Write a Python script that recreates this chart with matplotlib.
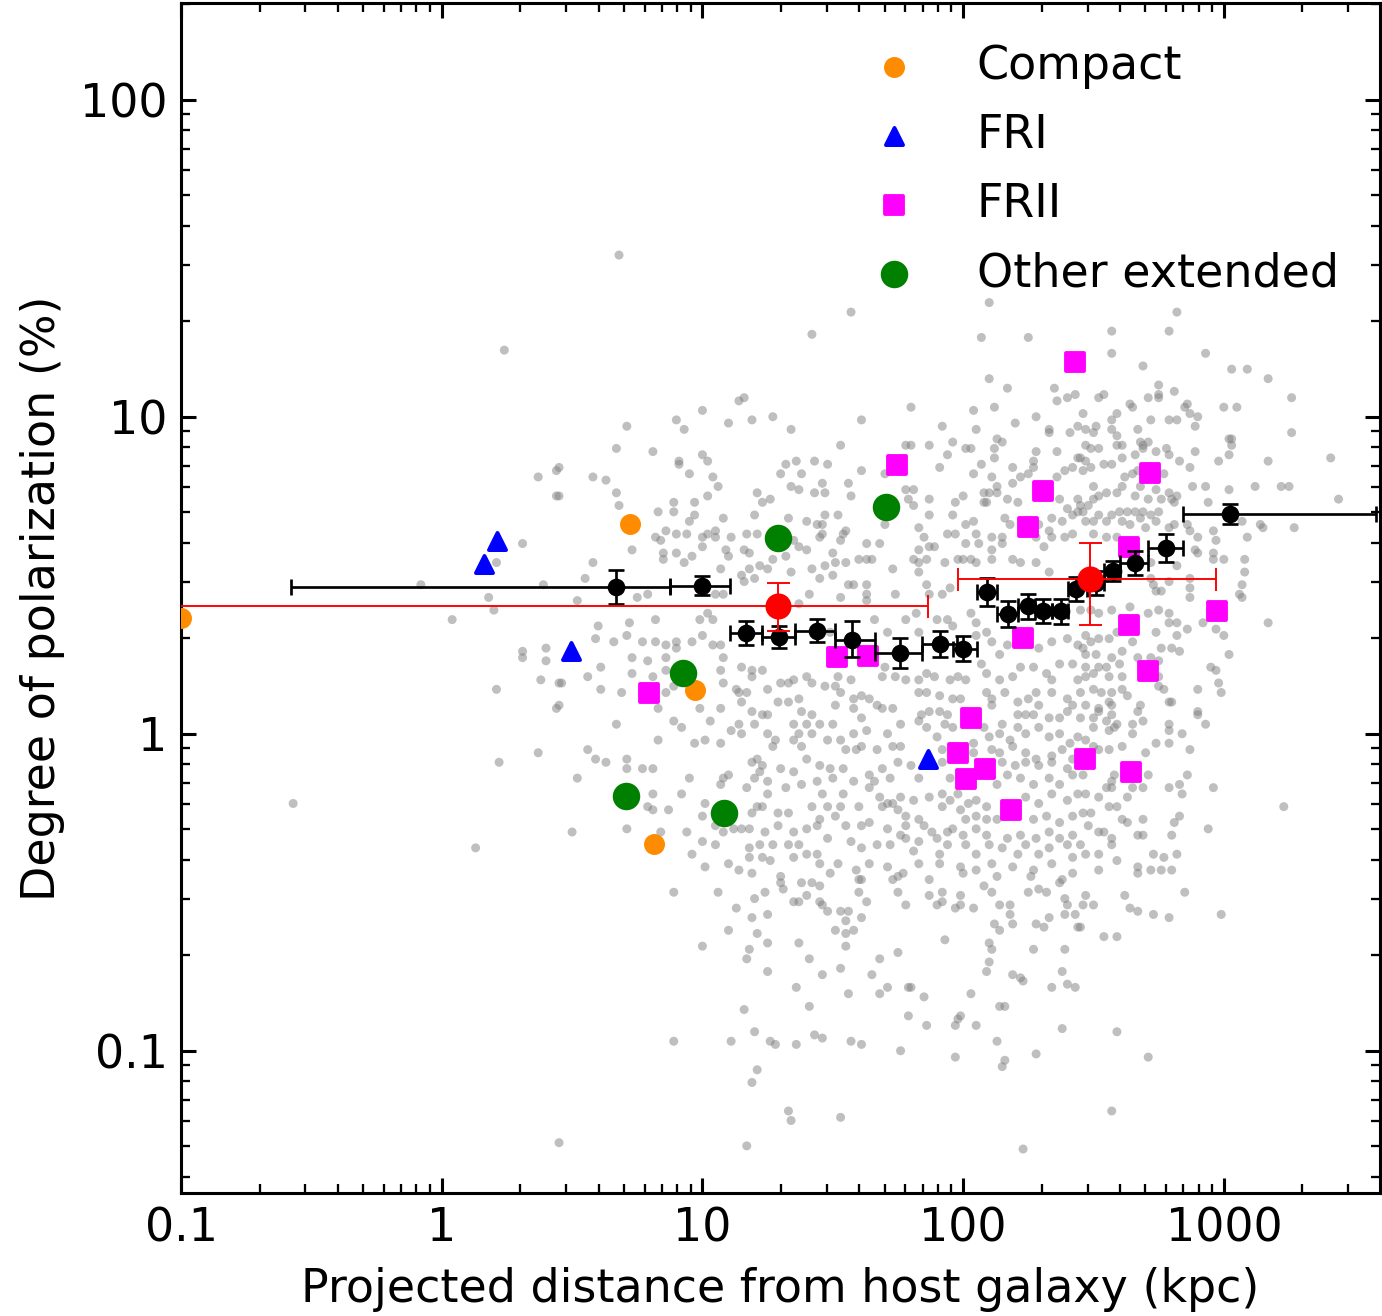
import matplotlib.pyplot as plt
import numpy as np
from matplotlib.ticker import FuncFormatter, LogLocator, NullFormatter

# Background radio sources: (log10 projected distance [kpc], log10 polarization [%])
field = np.array([
    (1.42, 1.26), (1.14, 1.05), (1.16, 1.06), (1.00, 1.02), (0.90, 0.99), (0.93, 0.96),
    (1.10, 0.98), (1.19, 0.99), (1.27, 1.00), (1.34, 0.96), (0.71, 0.97), (0.67, 0.90),
    (0.81, 0.89), (1.00, 0.88), (1.02, 0.86), (0.91, 0.85), (0.91, 0.86), (0.95, 0.82),
    (1.04, 0.81), (1.06, 0.78), (1.02, 0.75), (0.58, 0.81), (0.63, 0.80), (0.67, 0.76),
    (0.68, 0.72), (0.45, 0.75), (0.45, 0.84), (0.89, 0.73), (0.89, 0.70), (0.83, 0.70),
    (0.97, 0.73), (0.97, 0.69), (0.95, 0.67), (1.08, 0.68), (1.20, 0.69), (1.21, 0.76),
    (1.23, 0.73), (1.26, 0.74), (1.32, 0.85), (1.36, 0.86), (1.43, 0.86), (1.30, 0.82),
    (1.38, 0.82), (1.34, 0.78), (1.37, 0.77), (1.43, 0.76), (1.33, 0.68), (1.40, 0.67),
    (1.44, 0.66), (0.86, 0.64), (0.82, 0.62), (0.84, 0.61), (0.90, 0.63), (0.94, 0.63),
    (1.02, 0.63), (1.05, 0.64), (1.05, 0.62), (1.00, 0.62), (1.11, 0.62), (1.17, 0.63),
    (1.21, 0.63), (1.35, 0.61), (1.37, 0.59), (1.40, 0.58), (0.73, 0.58), (0.85, 0.57),
    (0.85, 0.55), (0.90, 0.57), (1.00, 0.59), (1.09, 0.58), (1.10, 0.56), (1.16, 0.58),
    (1.18, 0.57), (1.32, 0.56), (1.27, 0.55), (0.58, 0.54), (0.93, 0.54), (0.96, 0.56),
    (1.07, 0.52), (1.15, 0.50), (1.18, 0.52), (1.22, 0.53), (1.25, 0.52), (1.16, 0.48),
    (1.20, 0.49), (1.34, 0.51), (1.42, 0.52), (0.55, 0.49), (0.75, 0.43), (0.79, 0.44),
    (0.52, 0.42), (1.41, 0.44), (1.37, 0.41), (1.05, 0.44), (1.08, 0.44),
    (2.07, 1.25), (2.25, 1.25), (2.10, 1.12), (2.17, 1.09), (2.35, 1.09), (2.36, 1.05),
    (2.40, 1.06), (2.43, 1.07), (1.80, 1.03), (1.61, 0.99), (2.04, 1.02), (2.12, 1.03),
    (2.28, 1.00), (1.92, 0.97), (2.05, 0.96), (2.20, 0.98), (2.33, 0.96), (2.33, 0.95),
    (2.41, 0.95), (2.44, 0.97), (1.53, 0.91), (1.78, 0.91), (1.80, 0.91), (1.87, 0.91),
    (1.96, 0.92), (2.01, 0.90), (2.03, 0.90), (1.94, 0.88), (2.13, 0.93), (2.15, 0.92),
    (2.12, 0.90), (2.12, 0.87), (2.28, 0.89), (2.36, 0.89), (2.44, 0.87), (1.48, 0.85),
    (1.61, 0.83), (1.70, 0.82), (1.91, 0.84), (2.07, 0.85), (2.04, 0.82), (2.19, 0.84),
    (2.11, 0.81), (2.13, 0.78), (2.19, 0.79), (2.22, 0.81), (2.25, 0.82), (2.27, 0.84),
    (2.27, 0.86), (2.36, 0.81), (2.39, 0.83), (2.42, 0.84), (1.46, 0.79), (1.56, 0.79),
    (1.47, 0.76), (1.57, 0.75), (1.78, 0.77), (1.81, 0.77), (1.87, 0.74), (1.79, 0.74),
    (1.81, 0.72), (2.00, 0.75), (2.08, 0.76), (2.10, 0.76), (2.13, 0.76), (1.97, 0.73),
    (2.08, 0.73), (2.09, 0.73), (2.17, 0.74), (2.21, 0.73), (2.37, 0.74), (2.40, 0.71),
    (2.42, 0.69), (2.44, 0.70), (2.44, 0.74), (1.47, 0.69), (1.52, 0.69), (1.87, 0.69),
    (1.96, 0.69), (1.70, 0.66), (1.83, 0.65), (1.55, 0.64), (1.54, 0.63), (1.46, 0.66),
    (1.46, 0.63), (2.01, 0.66), (2.04, 0.67), (2.16, 0.68), (2.18, 0.66), (2.29, 0.66),
    (2.33, 0.64), (2.34, 0.68), (2.38, 0.67), (1.45, 0.62), (1.53, 0.61), (1.63, 0.60),
    (1.68, 0.60), (1.85, 0.62), (1.94, 0.63), (1.97, 0.63), (2.01, 0.60), (2.05, 0.63),
    (2.06, 0.60), (2.11, 0.62), (2.11, 0.58), (2.15, 0.62), (2.15, 0.60), (2.28, 0.62),
    (2.31, 0.59), (2.34, 0.62), (2.39, 0.62), (2.42, 0.63), (1.50, 0.57), (1.83, 0.58),
    (1.87, 0.59), (1.89, 0.59), (1.47, 0.53), (1.51, 0.54), (1.55, 0.54), (1.60, 0.55),
    (1.63, 0.55), (1.65, 0.55), (1.73, 0.52), (1.81, 0.55), (1.83, 0.54), (1.83, 0.51),
    (1.86, 0.55), (1.93, 0.54), (1.98, 0.55), (2.00, 0.55), (2.03, 0.55), (2.05, 0.54),
    (2.11, 0.55), (2.19, 0.55), (2.22, 0.54), (2.28, 0.54), (2.33, 0.51), (1.45, 0.49),
    (1.50, 0.50), (1.56, 0.47), (1.58, 0.47), (1.63, 0.47), (1.74, 0.44), (1.86, 0.47),
    (1.87, 0.44), (1.92, 0.44), (1.95, 0.46), (1.53, 0.43), (1.63, 0.44), (1.63, 0.42),
    (2.57, 1.27), (2.79, 1.27), (2.57, 1.20), (2.93, 1.20), (2.69, 1.16), (3.03, 1.15),
    (3.09, 1.15), (3.17, 1.12), (2.75, 1.10), (2.81, 1.08), (2.52, 1.06), (2.54, 1.07),
    (2.71, 1.06), (2.75, 1.07), (2.75, 1.06), (3.26, 1.06), (2.64, 1.04), (2.65, 1.03),
    (2.86, 1.04), (2.85, 1.03), (2.87, 1.01), (2.90, 1.00), (3.00, 1.03), (3.05, 1.03),
    (2.46, 1.01), (2.57, 0.99), (2.59, 1.01), (2.72, 0.99), (2.79, 0.99), (2.82, 0.99),
    (2.47, 0.96), (2.51, 0.97), (2.50, 0.95), (2.57, 0.96), (2.59, 0.94), (2.67, 0.96),
    (2.68, 0.92), (2.89, 0.97), (3.26, 0.95), (3.02, 0.93), (3.03, 0.93), (3.03, 0.91),
    (2.47, 0.91), (2.49, 0.90), (2.52, 0.90), (2.59, 0.91), (2.61, 0.91), (2.69, 0.91),
    (2.71, 0.92), (2.69, 0.90), (2.74, 0.89), (2.78, 0.90), (2.79, 0.88), (2.61, 0.87),
    (2.66, 0.88), (2.89, 0.89), (3.02, 0.88), (2.98, 0.86), (3.41, 0.87), (3.17, 0.86),
    (2.45, 0.87), (2.47, 0.86), (2.49, 0.84), (2.46, 0.83), (2.54, 0.85), (2.57, 0.85),
    (2.83, 0.86), (2.87, 0.84), (2.62, 0.81), (2.65, 0.82), (2.67, 0.83), (2.77, 0.82),
    (2.50, 0.78), (2.50, 0.74), (2.48, 0.72), (2.52, 0.75), (2.55, 0.76), (2.59, 0.76),
    (2.61, 0.78), (2.66, 0.75), (2.68, 0.78), (2.74, 0.77), (2.79, 0.76), (2.82, 0.75),
    (2.88, 0.78), (2.93, 0.78), (3.02, 0.77), (3.12, 0.78), (3.22, 0.78), (3.25, 0.78),
    (3.44, 0.74), (2.71, 0.74), (2.76, 0.74), (2.94, 0.73), (2.45, 0.72), (2.46, 0.70),
    (2.52, 0.69), (2.57, 0.69), (2.60, 0.70), (2.63, 0.70), (2.66, 0.70), (2.69, 0.70),
    (2.72, 0.69), (2.75, 0.70), (2.80, 0.74), (2.81, 0.73), (2.47, 0.67), (2.50, 0.67),
    (2.55, 0.67), (2.61, 0.67), (2.64, 0.66), (2.68, 0.68), (2.70, 0.65), (2.74, 0.67),
    (2.79, 0.65), (2.81, 0.66), (2.86, 0.66), (2.87, 0.64), (3.07, 0.67), (3.14, 0.66),
    (3.15, 0.65), (3.27, 0.65), (2.96, 0.64), (3.09, 0.62), (2.97, 0.61), (2.50, 0.63),
    (2.55, 0.62), (2.59, 0.62), (2.90, 0.62), (2.89, 0.58), (2.90, 0.57), (2.96, 0.57),
    (2.96, 0.55), (3.08, 0.55), (3.00, 0.55), (2.82, 0.53), (2.72, 0.54), (2.72, 0.49),
    (2.73, 0.47), (2.74, 0.45), (2.87, 0.49), (2.87, 0.46), (2.87, 0.43), (3.08, 0.51),
    (3.07, 0.47), (3.06, 0.44), (3.07, 0.43), (2.79, 0.48), (2.76, 0.45),
    (0.82, 0.36), (0.72, 0.35), (0.60, 0.34), (0.59, 0.30), (0.71, 0.31), (0.66, 0.29),
    (0.77, 0.29), (0.82, 0.29), (0.86, 0.28), (0.90, 0.27), (0.90, 0.29), (0.96, 0.29),
    (1.00, 0.31), (1.04, 0.28), (1.07, 0.28), (0.99, 0.36), (1.02, 0.38), (1.04, 0.36),
    (1.08, 0.24), (0.73, 0.24), (0.79, 0.23), (0.86, 0.24), (0.61, 0.21), (0.56, 0.18),
    (0.73, 0.19), (0.81, 0.18), (0.86, 0.20), (1.07, 0.20), (1.15, 0.21), (1.19, 0.20),
    (1.23, 0.20), (0.46, 0.16), (0.61, 0.14), (0.69, 0.13), (0.86, 0.13), (0.89, 0.15),
    (1.08, 0.16), (1.13, 0.14), (1.14, 0.13), (1.17, 0.13), (1.15, 0.10), (1.19, 0.18),
    (1.25, 0.14), (1.30, 0.16), (1.33, 0.16), (1.35, 0.17), (1.40, 0.18), (1.42, 0.16),
    (1.29, 0.10), (1.33, 0.10), (1.37, 0.11), (0.45, 0.09), (0.83, 0.08), (0.99, 0.08),
    (1.07, 0.08), (1.19, 0.07), (1.23, 0.06), (1.25, 0.06), (1.38, 0.07), (1.42, 0.06),
    (0.67, 0.03), (0.89, 0.04), (0.92, 0.02), (1.03, 0.04), (1.11, 0.01), (1.14, 0.03),
    (1.15, 0.00), (1.20, 0.03), (1.25, 0.00), (1.35, 0.03), (1.37, 0.00), (1.40, 0.03),
    (1.42, 0.00), (0.83, -0.02), (0.97, -0.03), (1.01, -0.02), (1.07, -0.03), (1.27, -0.04),
    (1.28, -0.02), (1.35, -0.02), (1.38, -0.04), (0.56, -0.05), (0.59, -0.08), (0.63, -0.09),
    (0.71, -0.08), (0.71, -0.11), (0.77, -0.11), (0.81, -0.11), (0.52, -0.14), (0.95, -0.14),
    (1.08, -0.14), (1.10, -0.13), (1.07, -0.16), (1.19, -0.09), (1.21, -0.08), (1.23, -0.10),
    (1.22, -0.12), (1.20, -0.14), (1.30, -0.11), (1.35, -0.12), (1.40, -0.08), (1.17, -0.17),
    (1.25, -0.15), (1.25, -0.19), (1.32, -0.17), (1.38, -0.16), (1.44, -0.15), (0.81, -0.19),
    (0.92, -0.19), (1.01, -0.22), (0.87, -0.24), (0.79, -0.23), (0.81, -0.24), (1.00, -0.26),
    (1.19, -0.25), (1.21, -0.23), (1.23, -0.23), (1.29, -0.25), (1.33, -0.25), (1.42, -0.23),
    (0.50, -0.31), (0.71, -0.30), (0.84, -0.31), (0.94, -0.31), (1.05, -0.29), (1.08, -0.31),
    (1.12, -0.30), (1.15, -0.30), (1.18, -0.30), (1.24, -0.31), (1.29, -0.29), (1.35, -0.31),
    (1.40, -0.30), (1.44, -0.29), (0.96, -0.38), (1.00, -0.34), (1.05, -0.35), (1.18, -0.36),
    (1.22, -0.35), (1.27, -0.35), (1.18, -0.39), (1.23, -0.39), (1.26, -0.40), (1.33, -0.35),
    (1.37, -0.35), (1.35, -0.39), (1.40, -0.38), (1.44, -0.38), (1.01, -0.42), (1.10, -0.41),
    (1.14, -0.43), (1.19, -0.44), (1.30, -0.45),
    (1.66, 0.36), (1.78, 0.36), (1.82, 0.38), (1.90, 0.36), (1.94, 0.36), (1.96, 0.34),
    (2.03, 0.38), (2.05, 0.35), (1.45, 0.32), (1.49, 0.32), (1.71, 0.32), (1.83, 0.32),
    (2.05, 0.31), (2.09, 0.32), (2.11, 0.29), (2.29, 0.27), (2.34, 0.29), (2.40, 0.30),
    (2.44, 0.28), (2.17, 0.28), (2.14, 0.25), (2.07, 0.22), (2.09, 0.19), (1.69, 0.18),
    (1.74, 0.18), (1.70, 0.21), (1.57, 0.17), (1.52, 0.18), (1.47, 0.15), (1.51, 0.15),
    (1.78, 0.17), (1.83, 0.17), (1.86, 0.19), (1.89, 0.18), (1.95, 0.17), (1.98, 0.18),
    (2.01, 0.17), (2.14, 0.17), (2.19, 0.18), (2.22, 0.21), (2.27, 0.21), (2.32, 0.19),
    (2.34, 0.17), (2.37, 0.22), (2.42, 0.22), (2.44, 0.17), (1.53, 0.13), (1.61, 0.12),
    (1.64, 0.11), (1.58, 0.11), (1.83, 0.13), (1.86, 0.13), (1.91, 0.12), (1.96, 0.11),
    (1.99, 0.11), (2.09, 0.13), (2.11, 0.11), (2.16, 0.13), (2.21, 0.10), (2.25, 0.11),
    (2.28, 0.13), (2.29, 0.09), (2.34, 0.13), (2.40, 0.11), (2.42, 0.09), (1.51, 0.09),
    (1.58, 0.08), (1.67, 0.09), (1.69, 0.08), (1.73, 0.08), (1.84, 0.06), (1.87, 0.07),
    (1.91, 0.07), (1.94, 0.06), (2.11, 0.09), (2.15, 0.03), (2.21, 0.06), (2.24, 0.06),
    (2.27, 0.06), (2.33, 0.05), (2.37, 0.05), (2.40, 0.07), (1.45, 0.03), (1.50, 0.03),
    (1.61, 0.05), (1.58, 0.00), (1.63, 0.01), (1.71, 0.00), (1.76, 0.03), (1.83, 0.04),
    (1.86, 0.02), (1.90, -0.01), (1.93, 0.03), (1.96, 0.02), (2.08, 0.02), (2.10, -0.01),
    (2.14, 0.00), (2.18, -0.02), (2.21, 0.02), (2.24, 0.00), (2.29, 0.02), (2.33, -0.01),
    (2.37, 0.00), (2.41, -0.03), (2.44, -0.01), (1.48, -0.02), (1.53, -0.02), (1.55, -0.05),
    (1.59, -0.05), (1.61, -0.04), (1.67, -0.05), (1.73, -0.04), (1.76, -0.04), (1.92, -0.05),
    (1.96, -0.04), (2.04, -0.03), (2.04, -0.06), (2.11, -0.05), (2.14, -0.06), (2.19, -0.04),
    (2.24, -0.06), (2.28, -0.08), (2.34, -0.07), (2.38, -0.05), (1.45, -0.10), (1.49, -0.11),
    (1.54, -0.11), (1.69, -0.11), (1.75, -0.09), (1.80, -0.10), (1.92, -0.09), (2.15, -0.09),
    (2.20, -0.10), (2.24, -0.09), (2.29, -0.10), (2.34, -0.09), (2.40, -0.11), (2.42, -0.08),
    (1.50, -0.14), (1.58, -0.15), (1.64, -0.13), (1.66, -0.15), (1.72, -0.14), (1.83, -0.14),
    (1.95, -0.14), (2.13, -0.16), (2.17, -0.13), (2.22, -0.14), (2.27, -0.16), (2.33, -0.14),
    (2.37, -0.16), (2.42, -0.13), (1.46, -0.19), (1.54, -0.19), (1.64, -0.17), (1.68, -0.20),
    (1.71, -0.22), (1.73, -0.22), (1.76, -0.20), (1.81, -0.21), (1.87, -0.20), (1.92, -0.19),
    (1.95, -0.21), (1.98, -0.19), (2.02, -0.22), (2.05, -0.21), (2.09, -0.23), (2.24, -0.20),
    (2.29, -0.22), (2.34, -0.19), (2.40, -0.21), (2.44, -0.19), (1.48, -0.23), (1.53, -0.23),
    (1.60, -0.23), (1.69, -0.23), (1.75, -0.24), (1.78, -0.26), (1.83, -0.27), (1.92, -0.23),
    (1.99, -0.24), (2.01, -0.27), (2.05, -0.26), (2.09, -0.27), (2.13, -0.27), (2.17, -0.26),
    (2.27, -0.27), (2.32, -0.26), (2.37, -0.28), (2.42, -0.26), (1.45, -0.27), (1.51, -0.26),
    (1.55, -0.29), (1.61, -0.29), (1.64, -0.28), (1.71, -0.30), (1.78, -0.29), (1.85, -0.29),
    (1.88, -0.31), (1.94, -0.31), (1.96, -0.30), (2.00, -0.32), (2.05, -0.30), (2.09, -0.32),
    (2.17, -0.33), (2.22, -0.32), (2.28, -0.33), (2.33, -0.31), (2.37, -0.33), (2.42, -0.32),
    (1.48, -0.33), (1.57, -0.34), (1.61, -0.36), (1.67, -0.35), (1.72, -0.35), (1.76, -0.32),
    (1.78, -0.33), (1.81, -0.37), (1.83, -0.34), (1.90, -0.33), (1.91, -0.38), (1.94, -0.35),
    (2.01, -0.35), (2.05, -0.38), (2.10, -0.35), (2.15, -0.36), (2.21, -0.38), (2.24, -0.35),
    (2.29, -0.38), (2.33, -0.36), (2.40, -0.35), (2.42, -0.39), (1.45, -0.41), (1.52, -0.41),
    (1.59, -0.43), (1.64, -0.41), (1.71, -0.42), (1.77, -0.44), (1.83, -0.41), (1.91, -0.41),
    (1.99, -0.42), (2.05, -0.43), (2.11, -0.41), (2.19, -0.42), (2.27, -0.43), (2.34, -0.41),
    (2.42, -0.44), (1.49, -0.44), (1.61, -0.46), (1.75, -0.45), (1.87, -0.46), (2.00, -0.44),
    (2.13, -0.45), (2.26, -0.45), (2.38, -0.46),
    (2.45, 0.39), (2.49, 0.39), (2.52, 0.38), (2.57, 0.39), (2.64, 0.40), (2.71, 0.38),
    (2.75, 0.39), (2.79, 0.38), (2.82, 0.35), (2.86, 0.33), (2.92, 0.35), (2.97, 0.33),
    (3.00, 0.31), (2.79, 0.35), (2.74, 0.32), (2.82, 0.31), (3.17, 0.35), (3.02, 0.25),
    (2.47, 0.31), (2.49, 0.29), (2.52, 0.30), (2.56, 0.30), (2.59, 0.32), (2.65, 0.29),
    (2.61, 0.26), (2.67, 0.24), (2.76, 0.27), (2.80, 0.27), (2.83, 0.26), (2.46, 0.27),
    (2.47, 0.25), (2.51, 0.25), (2.57, 0.24), (2.72, 0.24), (2.75, 0.23), (2.95, 0.21),
    (2.97, 0.20), (2.47, 0.21), (2.52, 0.21), (2.55, 0.21), (2.60, 0.22), (2.47, 0.18),
    (2.50, 0.19), (2.56, 0.18), (2.61, 0.18), (2.75, 0.18), (2.75, 0.15), (2.77, 0.14),
    (2.90, 0.14), (2.98, 0.16), (2.99, 0.13), (2.45, 0.13), (2.50, 0.14), (2.53, 0.13),
    (2.57, 0.13), (2.61, 0.14), (2.63, 0.12), (2.79, 0.10), (2.80, 0.10), (2.47, 0.09),
    (2.52, 0.08), (2.56, 0.10), (2.57, 0.09), (2.68, 0.09), (2.67, 0.07), (2.90, 0.07),
    (2.90, 0.06), (2.93, 0.03), (2.45, 0.05), (2.50, 0.05), (2.52, 0.07), (2.55, 0.04),
    (2.57, 0.06), (2.65, 0.03), (2.69, 0.04), (2.65, 0.00), (2.79, 0.03), (2.79, 0.01),
    (2.84, 0.00), (2.50, 0.02), (2.56, 0.01), (2.58, 0.02), (2.59, 0.03), (2.47, -0.02),
    (2.50, -0.04), (2.52, -0.05), (2.56, -0.05), (2.61, -0.04), (2.74, -0.03), (2.79, -0.03),
    (2.70, -0.06), (2.87, -0.05), (2.46, -0.13), (2.58, -0.13), (2.57, -0.15), (2.71, -0.13),
    (2.47, -0.19), (2.52, -0.20), (2.55, -0.17), (2.57, -0.17), (2.63, -0.20), (2.65, -0.17),
    (2.69, -0.17), (2.79, -0.17), (2.83, -0.16), (2.84, -0.19), (2.86, -0.13), (2.96, -0.17),
    (2.56, -0.23), (2.59, -0.23), (3.23, -0.23), (2.46, -0.25), (2.49, -0.25), (2.48, -0.29),
    (2.52, -0.31), (2.54, -0.31), (2.61, -0.27), (2.63, -0.28), (2.69, -0.27), (2.83, -0.26),
    (2.81, -0.28), (2.94, -0.30), (2.80, -0.32), (2.67, -0.32), (2.69, -0.32), (2.57, -0.33),
    (2.57, -0.35), (2.59, -0.40), (2.45, -0.35), (2.47, -0.38), (2.52, -0.38), (2.52, -0.43),
    (2.73, -0.38), (2.77, -0.39), (2.82, -0.38), (2.67, -0.42), (2.67, -0.44), (2.72, -0.43),
    (2.76, -0.43), (2.80, -0.43),
    (0.89, -0.50), (1.06, -0.50), (1.13, -0.55), (1.20, -0.52), (1.24, -0.50), (1.19, -0.58),
    (1.25, -0.57), (1.10, -0.62), (1.21, -0.63), (1.25, -0.66), (1.00, -0.67), (1.18, -0.68),
    (1.17, -0.71), (1.25, -0.75), (1.30, -0.47), (1.31, -0.49), (1.35, -0.53), (1.37, -0.53),
    (1.38, -0.47), (1.42, -0.47), (1.40, -0.51), (1.45, -0.53), (1.37, -0.66), (1.41, -0.71),
    (1.36, -0.80), (1.41, -0.86), (1.16, -0.87), (1.20, -0.94), (1.11, -0.97), (0.89, -0.97),
    (1.26, -0.97), (1.28, -0.98), (1.36, -0.98), (1.43, -0.95), (1.21, -1.06), (1.19, -1.10),
    (1.33, -1.19), (1.34, -1.22), (0.45, -1.29), (1.17, -1.30),
    (1.45, -0.48), (1.60, -0.46), (1.60, -0.50), (1.63, -0.53), (1.73, -0.46), (1.75, -0.50),
    (1.78, -0.54), (1.46, -0.54), (1.48, -0.56), (1.53, -0.56), (1.56, -0.56), (1.61, -0.58),
    (1.55, -0.59), (1.58, -0.62), (1.51, -0.62), (1.55, -0.63), (1.55, -0.67), (1.87, -0.51),
    (1.92, -0.50), (1.92, -0.53), (1.90, -0.54), (1.99, -0.51), (1.99, -0.54), (1.97, -0.55),
    (2.04, -0.55), (2.08, -0.48), (2.11, -0.50), (2.14, -0.54), (2.18, -0.54), (2.12, -0.60),
    (2.14, -0.62), (2.18, -0.57), (2.19, -0.60), (2.25, -0.50), (2.29, -0.49), (2.32, -0.50),
    (2.37, -0.47), (2.39, -0.52), (2.40, -0.54), (2.39, -0.57), (2.43, -0.57), (2.44, -0.61),
    (2.28, -0.60), (2.31, -0.61), (2.33, -0.58), (1.93, -0.65), (2.10, -0.66), (2.11, -0.68),
    (2.27, -0.68), (2.39, -0.68), (1.68, -0.71), (1.75, -0.69), (1.53, -0.74), (1.46, -0.76),
    (1.65, -0.76), (2.10, -0.72), (2.09, -0.75), (2.19, -0.76), (2.22, -0.77), (2.23, -0.78),
    (2.38, -0.75), (2.34, -0.80), (2.40, -0.79), (2.43, -0.80), (1.56, -0.82), (1.71, -0.80),
    (1.68, -0.82), (1.79, -0.80), (1.80, -0.80), (1.85, -0.83), (2.03, -0.82), (2.14, -0.86),
    (2.16, -0.86), (1.79, -0.89), (1.86, -0.92), (1.98, -0.90), (1.99, -0.89), (1.97, -0.92),
    (2.05, -0.92), (2.38, -0.93), (1.46, -0.96), (1.57, -0.97), (1.61, -0.98), (1.76, -1.00),
    (2.13, -0.97), (2.28, -1.01), (1.97, -1.02), (2.16, -1.03), (2.15, -1.05), (1.53, -1.21),
    (2.23, -1.31),
    (2.47, -0.51), (2.46, -0.54), (2.50, -0.54), (2.45, -0.61), (2.62, -0.51), (2.64, -0.55),
    (2.67, -0.56), (2.73, -0.57), (2.79, -0.58), (2.85, -0.50), (2.99, -0.57), (2.54, -0.64),
    (2.59, -0.64), (2.59, -0.94), (2.71, -1.02), (2.57, -1.19),
    (0.24, 1.21), (0.37, 0.81), (0.44, 0.83), (0.44, 0.75), (0.31, 0.60), (0.21, 0.54),
    (-0.08, 0.47), (0.39, 0.47), (0.18, 0.43), (0.20, 0.39), (0.04, 0.36), (0.31, 0.26),
    (0.31, 0.24), (0.40, 0.27), (0.40, 0.23), (0.38, 0.17), (0.21, 0.14), (0.45, 0.16),
    (0.44, 0.08), (0.22, -0.09), (0.37, -0.06), (-0.57, -0.22), (0.13, -0.36),
    (0.68, 1.51), (1.57, 1.33), (2.10, 1.36), (2.82, 1.33),
])

# Source classes
compact_dist = [0.1, 5.28, 9.37, 6.51]
compact_pol = [2.31, 4.59, 1.37, 0.45]

fri_dist = [1.63, 1.45, 3.13, 73.3]
fri_pol = [4.06, 3.44, 1.83, 0.83]

frii_dist = [268, 55.7, 521, 202, 177, 433, 942, 433, 170, 512,
             32.8, 43.2, 6.24, 107, 95.5, 294, 121, 103, 441, 153]
frii_pol = [14.9, 7.06, 6.65, 5.85, 4.50, 3.89, 2.43, 2.21, 2.01, 1.58,
            1.74, 1.76, 1.34, 1.12, 0.871, 0.834, 0.776, 0.721, 0.759, 0.575]

other_dist = [50.6, 19.5, 8.43, 5.09, 12.1]
other_pol = [5.20, 4.15, 1.55, 0.637, 0.564]

# Binned medians of the background sample
bin_dist = np.array([4.67, 10.0, 14.7, 19.7, 27.5, 37.5, 57.3, 81.5, 100, 124,
                     149, 177, 202, 238, 271, 323, 376, 456, 600, 1057])
bin_lo = np.array([0.264, 7.52, 12.8, 16.9, 22.6, 32.3, 45.9, 69.5, 91.4, 113,
                   135, 163, 189, 219, 253, 299, 347, 400, 512, 697])
bin_hi = np.array([7.52, 12.8, 16.9, 22.6, 32.3, 45.9, 69.5, 94.8, 113, 135,
                   163, 189, 219, 253, 299, 347, 400, 512, 697, 3840])
bin_pol = np.array([2.91, 2.93, 2.08, 2.02, 2.11, 1.98, 1.80, 1.92, 1.85, 2.79,
                    2.39, 2.52, 2.44, 2.43, 2.87, 2.99, 3.27, 3.46, 3.86, 4.94])
bin_pol_lo = np.array([2.57, 2.73, 1.91, 1.86, 1.94, 1.74, 1.61, 1.75, 1.69, 2.52,
                       2.17, 2.30, 2.23, 2.22, 2.63, 2.74, 3.04, 3.17, 3.49, 4.60])
bin_pol_hi = np.array([3.29, 3.15, 2.27, 2.19, 2.30, 2.27, 2.01, 2.11, 2.03, 3.09,
                       2.63, 2.76, 2.67, 2.66, 3.13, 3.26, 3.51, 3.77, 4.27, 5.31])

# Two broad bins (inner / outer)
mean_dist = np.array([19.5, 307])
mean_lo = np.array([0.05, 95.5])
mean_hi = np.array([73.3, 937])
mean_pol = np.array([2.53, 3.08])
mean_pol_lo = np.array([2.11, 2.21])
mean_pol_hi = np.array([2.99, 4.01])

plt.rcParams.update({
    'xtick.direction': 'in', 'ytick.direction': 'in',
    'xtick.top': True, 'ytick.right': True,
    'xtick.major.size': 3.8, 'ytick.major.size': 3.8,
    'xtick.minor.size': 2.4, 'ytick.minor.size': 2.4,
    'font.size': 12,
})

dpi = 276
fig = plt.figure(figsize=(1382 / dpi, 1316 / dpi), dpi=dpi)
ax = fig.add_axes([0.131, 0.0935, 0.8675, 0.9043])

ax.scatter(10 ** field[:, 0], 10 ** field[:, 1], s=5.5, c='grey', alpha=0.5,
           edgecolors='none', zorder=1)

ax.scatter(compact_dist, compact_pol, s=20, c='darkorange', label='Compact', zorder=3)
ax.scatter(fri_dist, fri_pol, s=20, c='blue', marker='^', label='FRI', zorder=3)
ax.scatter(frii_dist, frii_pol, s=22, c='magenta', marker='s', label='FRII', zorder=3)
ax.scatter(other_dist, other_pol, s=38, c='green', label='Other extended', zorder=3)

ax.errorbar(bin_dist, bin_pol,
            xerr=[bin_dist - bin_lo, bin_hi - bin_dist],
            yerr=[bin_pol - bin_pol_lo, bin_pol_hi - bin_pol],
            fmt='o', color='k', ms=3.6, elinewidth=0.7, capsize=2, capthick=0.7,
            zorder=4)
ax.errorbar(mean_dist, mean_pol,
            xerr=[mean_dist - mean_lo, mean_hi - mean_dist],
            yerr=[mean_pol - mean_pol_lo, mean_pol_hi - mean_pol],
            fmt='o', color='red', ms=5.8, elinewidth=0.5, capsize=3, capthick=0.5,
            zorder=5)

ax.set_xscale('log')
ax.set_yscale('log')
ax.set_xlim(0.1, 3970)
ax.set_ylim(0.0356, 202)

fmt = FuncFormatter(lambda v, pos: f'{v:g}')
ax.xaxis.set_major_locator(LogLocator(base=10))
ax.yaxis.set_major_locator(LogLocator(base=10))
ax.xaxis.set_major_formatter(fmt)
ax.yaxis.set_major_formatter(fmt)
ax.xaxis.set_minor_locator(LogLocator(base=10, subs=np.arange(2, 10), numticks=20))
ax.yaxis.set_minor_locator(LogLocator(base=10, subs=np.arange(2, 10), numticks=20))
ax.xaxis.set_minor_formatter(NullFormatter())
ax.yaxis.set_minor_formatter(NullFormatter())

ax.set_xlabel('Projected distance from host galaxy (kpc)')
ax.set_ylabel('Degree of polarization (%)')

ax.legend(loc='upper right', frameon=False, labelspacing=0.52)

fig.savefig('out.png', dpi=dpi)
